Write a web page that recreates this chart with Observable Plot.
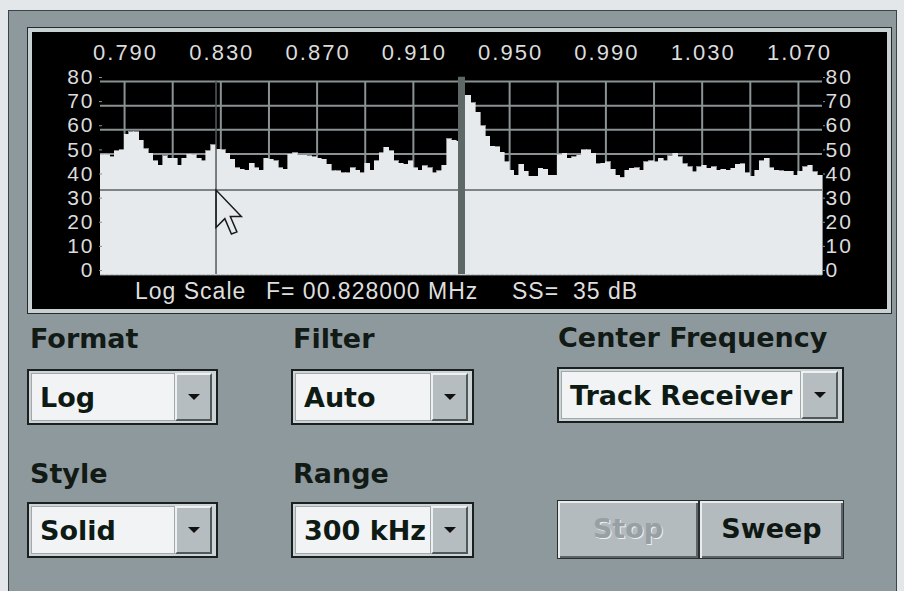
<!DOCTYPE html>
<html>
<head>
<meta charset="utf-8">
<script src="https://cdn.jsdelivr.net/npm/d3@7"></script>
<script src="https://cdn.jsdelivr.net/npm/@observablehq/plot@0.6"></script>
<style>
  html, body { margin: 0; padding: 0; }
  body { width: 904px; height: 591px; overflow: hidden; position: relative; background: #e4e7e9; }
  #panel { position: absolute; left: 8px; top: 10px; width: 887px; height: 585px; background: #8e999e; border-top: 1px solid #3c4448; border-left: 1px solid #3c4448; border-right: 1px solid #3c4448; }
  #screen { position: absolute; left: 28px; top: 28px; width: 855px; height: 277px; border: 4px solid #c9d0d2; outline: 1px solid #262a2c; background: #000; }
  #screen svg { display: block; }
  svg.disp text { letter-spacing: 2px; }
  .status { position: absolute; top: 279px; font-family: "Liberation Sans", Arial, sans-serif; font-size: 23px; color: #dedede; letter-spacing: 1px; white-space: pre; line-height: 24px; }
  .lbl { position: absolute; font-family: "DejaVu Sans", sans-serif; font-weight: bold; font-size: 27px; color: #121a16; white-space: pre; line-height: 30px; }
  .combo { position: absolute; box-sizing: border-box; border: 2px solid #1b1f1f; background: #cdd4d6; }
  .combo .field { position: absolute; left: 2px; top: 2px; bottom: 2px; right: 41px; background: #f1f3f5; border: 1px solid #a0a8aa; box-sizing: border-box; }
  .combo .field span { position: absolute; left: 8px; top: 9px; font-family: "DejaVu Sans", sans-serif; font-weight: bold; font-size: 27px; color: #0e1a14; white-space: pre; line-height: 30px; }
  .combo .btn { position: absolute; right: 4px; top: 2px; bottom: 2px; width: 37px; box-sizing: border-box; background: #b5bdc0; border-top: 2px solid #eef1f2; border-left: 2px solid #eef1f2; border-right: 2px solid #51585a; border-bottom: 2px solid #51585a; }
  .combo .btn::after { content: ""; position: absolute; left: 50%; top: 50%; margin-left: -6px; margin-top: -3px; border-left: 6px solid transparent; border-right: 6px solid transparent; border-top: 6px solid #111; }
  .pbtn { position: absolute; box-sizing: border-box; background: #b4bbbe; border: 1px solid #2a2e30; box-shadow: inset 2px 2px 0 #e9eced, inset -2px -2px 0 #5d6467; font-family: "DejaVu Sans", sans-serif; font-weight: bold; font-size: 27px; text-align: center; line-height: 56px; }
</style>
</head>
<body>
<div id="panel"></div>
<div id="screen"></div>
<div id="controls"></div>
<script>
// ---- data ----
const levelTicks = [0, 10, 20, 30, 40, 50, 60, 70, 80];
const freqLabels = [0.790, 0.830, 0.870, 0.910, 0.950, 0.990, 1.030, 1.070];
const gridFreqs = [0.79, 0.81, 0.83, 0.85, 0.87, 0.89, 0.91, 0.95, 0.97, 0.99, 1.01, 1.03, 1.05, 1.07];
const startMHz = 0.780;
const stepMHz = 0.002;
const levels = [
  49.5, 49.5, 48.5, 51, 51.5, 58, 59, 59, 55.5, 52,
  50, 47, 45, 49, 48, 48, 45, 48, 49.6, 49.5,
  48, 47, 51, 53.5, 51.7, 51.5, 50, 47.5, 44, 43.4,
  43, 46, 44, 43, 48, 47.5, 47, 44, 43.4, 49.6,
  50.3, 49.2, 49.2, 49, 48.5, 48, 47.5, 45.5, 42.7, 42.7,
  42, 42, 44, 43, 42, 46, 43, 47, 50.3, 52.5,
  51, 47, 46, 45.5, 47, 44, 43, 44.8, 44, 42,
  42.7, 45, 56, 55.5, 55,
  74, 74, 71, 67, 61.5, 57, 53, 52.8, 50.5, 46.5,
  43, 41, 45.5, 42.5, 40.6, 40.6, 43.8, 43.5, 41, 41,
  49.5, 50, 48, 48.5, 49.3, 51.5, 51.4, 50, 45.8, 46,
  46.5, 43.5, 41, 40, 43, 43.8, 44, 43, 46.5, 47,
  46.5, 48, 47, 49, 50, 48.5, 45.8, 44.5, 42.4, 44.5,
  45, 43.8, 44.5, 43, 43.5, 43, 43.8, 45.5, 45.8, 42,
  40.5, 43, 47, 48, 44, 43, 42.8, 42.6, 42.6, 41,
  42.5, 44.5, 45, 42.4, 41
];
const centerMHz = 0.930;
const cursorMHz = 0.828;
const cursorLevel = 35;
const scaleName = "Log Scale";

const controlLabels = ["Format", "Filter", "Center Frequency", "Style", "Range"];
const controlValues = ["Log", "Auto", "Track Receiver", "Solid", "300 kHz"];
const buttonLabels = ["Stop", "Sweep"];

// ---- spectrum display ----
const bins = levels.map((v, i) => ({f0: startMHz + i * stepMHz, f1: startMHz + (i + 1) * stepMHz, v}));
const x0 = startMHz, x1 = startMHz + levels.length * stepMHz;

const arrow = {
  draw(ctx) {
    const s = 2.2;
    const pts = [[0, 0], [0, 17], [4, 13], [7, 20], [9.5, 19], [6.5, 12], [11.5, 12]];
    ctx.moveTo(pts[0][0] * s, pts[0][1] * s);
    for (const [a, b] of pts.slice(1)) ctx.lineTo(a * s, b * s);
    ctx.closePath();
  }
};

const grid = "#8a9293";
const plot = Plot.plot({
  width: 855,
  height: 277,
  marginLeft: 68,
  marginRight: 65,
  marginTop: 49,
  marginBottom: 35,
  className: "disp",
  style: {background: "#000", color: "#dcdcdc", fontFamily: "'Liberation Sans', Arial, sans-serif", overflow: "visible"},
  x: {domain: [x0, x1], axis: null},
  y: {domain: [0, 80], axis: null},
  marks: [
    Plot.ruleX(gridFreqs, {y1: 0, y2: 80, stroke: grid, strokeWidth: 2}),
    Plot.ruleY(levelTicks, {x1: x0, x2: x1, stroke: grid, strokeWidth: 2}),
    Plot.rectY(bins, {x1: "f0", x2: "f1", y1: 0, y2: "v", fill: "#e6eaec", stroke: "#e6eaec", strokeWidth: 0.6, inset: 0, shapeRendering: "crispEdges"}),
    Plot.ruleY([cursorLevel], {x1: x0, x2: x1, stroke: "#7c8484", strokeWidth: 2}),
    Plot.ruleX([centerMHz], {y1: 0, y2: 81.8, stroke: "#5e6866", strokeWidth: 7}),
    Plot.ruleX([cursorMHz], {y1: 0, y2: 80, stroke: "#555b5b", strokeWidth: 1.5}),
    Plot.axisX(freqLabels, {anchor: "top", tickSize: 0, tickPadding: 22, fontSize: 22, dx: 1, tickFormat: d => d.toFixed(3), label: null}),
    Plot.axisY(levelTicks, {anchor: "left", tickSize: 3, tickPadding: 5, fontSize: 21, dx: 2, dy: -4, stroke: grid, label: null}),
    Plot.axisY(levelTicks, {anchor: "right", tickSize: 2, tickPadding: 1, fontSize: 21, dy: -4, stroke: grid, label: null}),
    Plot.dot([{f: cursorMHz, v: cursorLevel}], {x: "f", y: "v", symbol: arrow, fill: "none", stroke: "#1a1a1a", strokeWidth: 1.5})
  ]
});
document.getElementById("screen").appendChild(plot);

// ---- status line ----
const statusParts = [
  {text: scaleName, left: 135},
  {text: "F= " + cursorMHz.toFixed(6).padStart(9, "0") + " MHz", left: 266},
  {text: "SS=", left: 512},
  {text: cursorLevel + " dB", left: 573}
];
for (const p of statusParts) {
  const el = document.createElement("div");
  el.className = "status";
  el.style.left = p.left + "px";
  el.textContent = p.text;
  document.body.appendChild(el);
}

// ---- controls ----
const ctl = document.getElementById("controls");
const labelPos = [[30, 324], [293, 324], [558, 323], [30, 459], [293, 459]];
controlLabels.forEach((t, i) => {
  const el = document.createElement("div");
  el.className = "lbl";
  el.style.left = labelPos[i][0] + "px";
  el.style.top = labelPos[i][1] + "px";
  el.textContent = t;
  ctl.appendChild(el);
});
const comboPos = [[27, 369, 191, 56], [291, 369, 183, 56], [557, 367, 287, 56], [27, 502, 191, 56], [291, 502, 183, 56]];
controlValues.forEach((t, i) => {
  const [l, tp, w, h] = comboPos[i];
  const c = document.createElement("div");
  c.className = "combo";
  Object.assign(c.style, {left: l + "px", top: tp + "px", width: w + "px", height: h + "px"});
  const f = document.createElement("div");
  f.className = "field";
  const s = document.createElement("span");
  s.textContent = t;
  f.appendChild(s);
  const b = document.createElement("div");
  b.className = "btn";
  c.appendChild(f);
  c.appendChild(b);
  ctl.appendChild(c);
});
const btnPos = [[557, 500, 142, 59], [699, 500, 145, 59]];
buttonLabels.forEach((t, i) => {
  const [l, tp, w, h] = btnPos[i];
  const b = document.createElement("div");
  b.className = "pbtn";
  Object.assign(b.style, {left: l + "px", top: tp + "px", width: w + "px", height: h + "px"});
  b.textContent = t;
  if (i === 0) { b.style.color = "#97a0a3"; b.style.textShadow = "1px 1px 0 #eef0f1"; }
  else b.style.color = "#101814";
  ctl.appendChild(b);
});
</script>
</body>
</html>
